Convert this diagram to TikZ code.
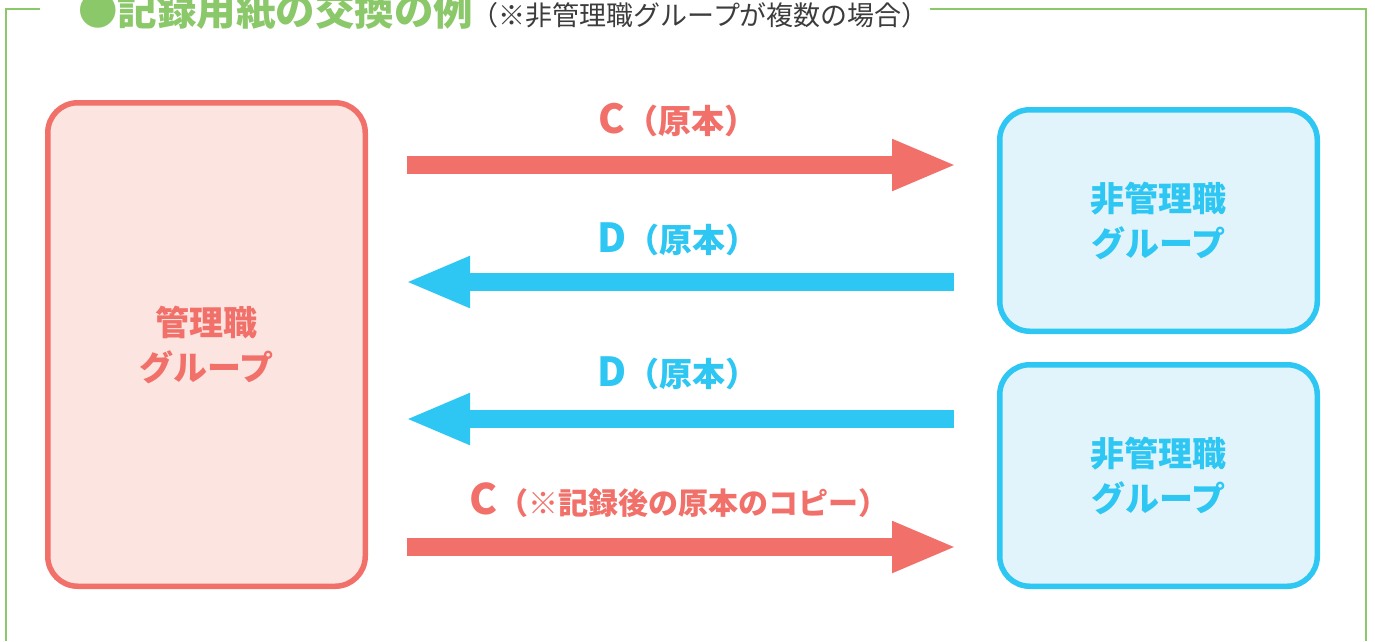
\documentclass[tikz,border=0pt]{standalone}
\usepackage{fontspec}
\setmainfont{Noto Sans CJK JP}
\usetikzlibrary{arrows.meta}
\definecolor{cred}{HTML}{F2706A}
\definecolor{credfill}{HTML}{FCE5E0}
\definecolor{cblue}{HTML}{2EC6F3}
\definecolor{cbluefill}{HTML}{E1F4FB}
\definecolor{cgreen}{HTML}{8BC86A}
\definecolor{cgray}{HTML}{3C3C3C}
\begin{document}
\begin{tikzpicture}[x=1pt,y=-1pt,
  frameline/.style={draw=cgreen,line width=2.5pt},
  redbox/.style={draw=cred,fill=credfill,line width=5.5pt,rounded corners=30pt,
    minimum width=317.5pt,inner sep=0pt,align=center,text=cred,
    font=\bfseries\fontsize{34}{45}\selectfont},
  bluebox/.style={draw=cblue,fill=cbluefill,line width=5.5pt,rounded corners=30pt,
    minimum width=317.5pt,minimum height=221.5pt,inner sep=0pt,align=center,text=cblue,
    font=\bfseries\fontsize{34}{45}\selectfont},
  redarr/.style={draw=cred,line width=18pt,-{Triangle[length=65pt,width=47pt]}},
  bluearr/.style={draw=cblue,line width=18pt,-{Triangle[length=65pt,width=47pt]}},
  lbl/.style={inner sep=0pt,font=\bfseries\fontsize{33}{33}\selectfont}]
\useasboundingbox (0,0) rectangle (1375,641);
% frame
\draw[frameline] (40,9) -- (6,9) -- (6,641);
\draw[frameline] (930,9) -- (1366,9) -- (1366,641);
% title
\node[anchor=base west,inner sep=0pt,text=cgreen,font=\bfseries\fontsize{39.5}{39.5}\selectfont] (title) at (78,25) {●記録用紙の交換の例};
\node[anchor=base west,inner sep=0pt,text=cgray,font=\fontsize{27}{27}\selectfont] (sub) at ([xshift=-2pt]title.base east) {（※非管理職グループが複数の場合）};
% boxes
\node[redbox,minimum height=483.5pt] (mgr) at (206.5,344.5) {管理職\\グループ};
\node[bluebox] (nm1) at (1158.5,220.5) {非管理職\\グループ};
\node[bluebox] (nm2) at (1158.5,475.5) {非管理職\\グループ};
% arrows
\coordinate (c1s) at (407,165);  \coordinate (c1e) at (957,165);
\coordinate (d1s) at (954,282);  \coordinate (d1e) at (405,282);
\coordinate (d2s) at (954,419);  \coordinate (d2e) at (405,419);
\coordinate (c2s) at (407,547);  \coordinate (c2e) at (957,547);
\draw[redarr] (c1s) -- (c1e);
\draw[bluearr] (d1s) -- (d1e);
\draw[bluearr] (d2s) -- (d2e);
\draw[redarr] (c2s) -- (c2e);
% labels
\node[lbl,text=cred] (lc1) at (678,120) {{\fontsize{40}{40}\selectfont C}（原本）};
\node[lbl,text=cblue] (ld1) at (678,239) {{\fontsize{40}{40}\selectfont D}（原本）};
\node[lbl,text=cblue] (ld2) at (678,373) {{\fontsize{40}{40}\selectfont D}（原本）};
\node[lbl,text=cred] (lc2) at (679,500) {{\fontsize{42}{42}\selectfont C}{\fontsize{30}{30}\selectfont （※記録後の原本のコピー）}};
\end{tikzpicture}
\end{document}
